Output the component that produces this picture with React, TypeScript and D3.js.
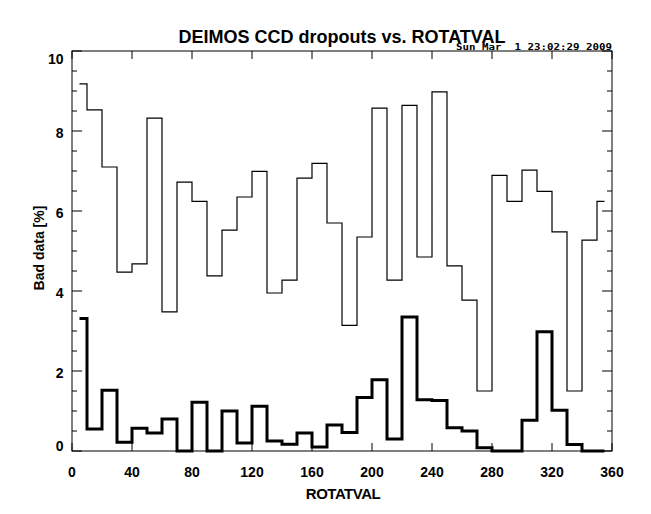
import React from "react";
import * as d3 from "d3";

const rotatval = [5, 15, 25, 35, 45, 55, 65, 75, 85, 95, 105, 115, 125, 135, 145, 155, 165, 175, 185, 195, 205, 215, 225, 235, 245, 255, 265, 275, 285, 295, 305, 315, 325, 335, 345, 355];
const allBad = [9.18, 8.53, 7.1, 4.47, 4.68, 8.32, 3.48, 6.72, 6.24, 4.38, 5.52, 6.35, 6.99, 3.95, 4.27, 6.82, 7.19, 5.7, 3.14, 5.35, 8.57, 4.27, 8.64, 4.85, 8.98, 4.63, 3.77, 1.5, 6.89, 6.24, 7.02, 6.49, 5.48, 1.5, 5.27, 6.24];
const dropouts = [3.31, 0.55, 1.52, 0.22, 0.57, 0.45, 0.8, 0, 1.22, 0, 1.0, 0.2, 1.12, 0.25, 0.17, 0.45, 0.1, 0.65, 0.46, 1.34, 1.78, 0.3, 3.35, 1.28, 1.26, 0.58, 0.5, 0.08, 0, 0, 0.77, 2.98, 1.02, 0.16, 0, 0];
const xTicks = [0, 40, 80, 120, 160, 200, 240, 280, 320, 360];
const yTicks = [0, 2, 4, 6, 8, 10];
const yMinor = [0.5, 1, 1.5, 2.5, 3, 3.5, 4.5, 5, 5.5, 6.5, 7, 7.5, 8.5, 9, 9.5];
const titleText = "DEIMOS CCD dropouts vs. ROTATVAL";
const stampText = "Sun Mar  1 23:02:29 2009";

const W = 651, H = 514;
const L = 72, R = 612, T = 51, B = 451;
const FONT = "'Liberation Sans', Arial, Helvetica, sans-serif";

export default function App() {
  const x = d3.scaleLinear().domain([0, 360]).range([L, R]);
  const y = d3.scaleLinear().domain([0, 10]).range([B, T]);
  const line = d3.line<number>()
    .x((_, i) => x(rotatval[i]))
    .y((v) => y(v))
    .curve(d3.curveStep);
  const pathThin = line(allBad) || "";
  const pathThick = line(dropouts) || "";

  const yLabelBaseline = (v: number) => {
    if (v === 10) return y(v) + 13;
    if (v === 0) return y(v);
    return y(v) + 7;
  };

  return (
    <svg width={W} height={H} style={{ position: "absolute", left: 0, top: 0, background: "#fff" }}>
      <rect x={0} y={0} width={W} height={H} fill="#fff" />
      <text x={(L + R) / 2} y={43} textAnchor="middle" fontFamily={FONT} fontWeight="bold" fontSize={18} fill="#000">{titleText}</text>
      <text x={R} y={50} textAnchor="end" fontFamily="'DejaVu Sans Mono', monospace" fontWeight="bold" fontSize={9.5} textLength={156} lengthAdjust="spacingAndGlyphs" fill="#000" style={{ whiteSpace: "pre" }}>{stampText}</text>

      <rect x={L} y={T} width={R - L} height={B - T} fill="none" stroke="#000" strokeWidth={1} />
      {xTicks.map((t) => (
        <g key={"xt" + t}>
          <line x1={x(t)} x2={x(t)} y1={B} y2={B - 8} stroke="#000" strokeWidth={1} />
          <line x1={x(t)} x2={x(t)} y1={T} y2={T + 8} stroke="#000" strokeWidth={1} />
          <text x={x(t)} y={477} textAnchor="middle" fontFamily={FONT} fontWeight="bold" fontSize={14} fill="#000">{t}</text>
        </g>
      ))}
      {yTicks.map((t) => (
        <g key={"yt" + t}>
          <line x1={L} x2={L + 10} y1={y(t)} y2={y(t)} stroke="#000" strokeWidth={1} />
          <line x1={R} x2={R - 10} y1={y(t)} y2={y(t)} stroke="#000" strokeWidth={1} />
          <text x={63.5} y={yLabelBaseline(t)} textAnchor="end" fontFamily={FONT} fontWeight="bold" fontSize={14} fill="#000">{t}</text>
        </g>
      ))}
      {yMinor.map((t) => (
        <g key={"ym" + t}>
          <line x1={L} x2={L + 5} y1={y(t)} y2={y(t)} stroke="#000" strokeWidth={1} />
          <line x1={R} x2={R - 5} y1={y(t)} y2={y(t)} stroke="#000" strokeWidth={1} />
        </g>
      ))}

      <path d={pathThin} fill="none" stroke="#000" strokeWidth={1.2} />
      <path d={pathThick} fill="none" stroke="#000" strokeWidth={3} />

      <text x={343} y={499} textAnchor="middle" fontFamily={FONT} fontWeight="bold" fontSize={15} letterSpacing={-0.5} fill="#000">ROTATVAL</text>
      <text transform={`translate(43.5,248) rotate(-90)`} textAnchor="middle" fontFamily={FONT} fontWeight="bold" fontSize={14} fill="#000">Bad data [%]</text>
    </svg>
  );
}
